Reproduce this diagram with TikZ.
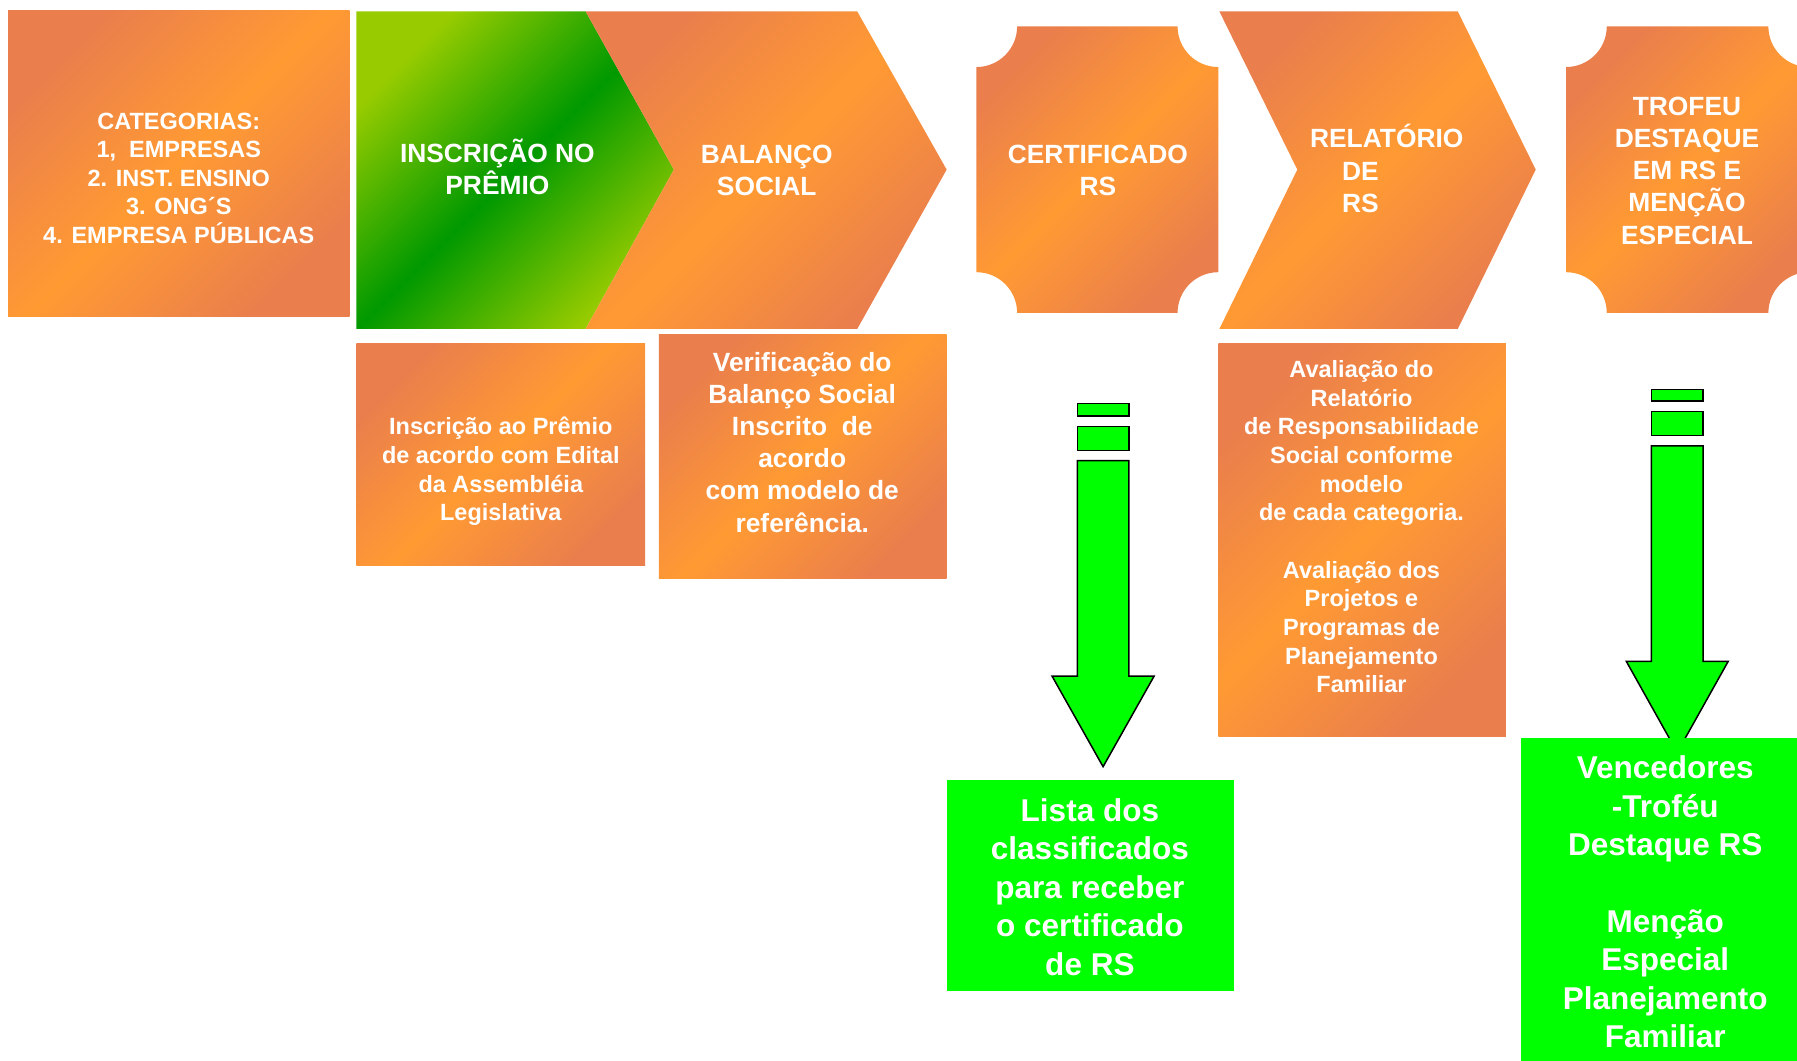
\documentclass[tikz,border=0pt]{standalone}
\usepackage{fontspec}
\setmainfont{Liberation Sans}
\definecolor{odark}{HTML}{EA7E4D}
\definecolor{obright}{HTML}{FF9A33}
\definecolor{glight}{HTML}{99CC00}
\definecolor{gdark}{HTML}{009900}
\definecolor{neon}{HTML}{00FF00}
\pgfdeclarehorizontalshading{orangeshade}{100bp}{color(0bp)=(odark); color(25bp)=(odark); color(50bp)=(obright); color(75bp)=(odark); color(100bp)=(odark)}
\pgfdeclarehorizontalshading{greenshade}{100bp}{color(0bp)=(glight); color(25bp)=(glight); color(50bp)=(gdark); color(75bp)=(glight); color(100bp)=(glight)}
\tikzset{
  orng/.style={shading=orangeshade, shading angle=-45},
  grn/.style={shading=greenshade, shading angle=-45},
  lbl/.style={text=white, align=center, inner sep=0pt},
  fcat/.style={font=\bfseries\fontsize{20.5}{24.8}\selectfont},
  fhead/.style={font=\bfseries\fontsize{23}{28}\selectfont},
  fsmall/.style={font=\bfseries\fontsize{20.5}{25}\selectfont},
  fbig/.style={font=\bfseries\fontsize{27.5}{33.5}\selectfont},
  arr/.style={fill=neon, draw=black, line width=1.3pt, line join=miter},
  gbox/.style={fill=neon},
}
\begin{document}
\begin{tikzpicture}[x=1pt,y=1pt]
\useasboundingbox (0,0) rectangle (1568,-925);
\clip (0,0) rectangle (1568,-925);
\fill[white] (0,0) rectangle (1568,-925);
% top row shapes
\path[orng] (7,-9) rectangle (305,-276);
\path[grn] (311,-10) -- (511,-10) -- (588,-148) -- (511,-287) -- (311,-287) -- cycle;
\path[orng] (511,-10) -- (748,-10) -- (826,-148) -- (748,-287) -- (511,-287) -- (588,-148) -- cycle;
\path[orng] (887.5,-23) -- (1027.5,-23) arc[start angle=180,end angle=270,radius=35.5pt]
  -- (1063,-237.5) arc[start angle=90,end angle=180,radius=35.5pt]
  -- (887.5,-273) arc[start angle=0,end angle=90,radius=35.5pt]
  -- (852,-58.5) arc[start angle=270,end angle=360,radius=35.5pt] -- cycle;
\path[orng] (1064,-10) -- (1272,-10) -- (1340,-148) -- (1272,-287) -- (1064,-287) -- (1132,-148) -- cycle;
\path[orng] (1402,-23) -- (1543,-23) arc[start angle=180,end angle=270,radius=35.5pt]
  -- (1578.5,-237.5) arc[start angle=90,end angle=180,radius=35.5pt]
  -- (1402,-273) arc[start angle=0,end angle=90,radius=35.5pt]
  -- (1366.5,-58.5) arc[start angle=270,end angle=360,radius=35.5pt] -- cycle;
% lower boxes
\path[orng] (311,-300) rectangle (563,-493);
\path[orng] (575,-292) rectangle (826,-505);
\path[orng] (1063,-299.5) rectangle (1314,-643);
% arrows
\draw[arr] (940,-352) rectangle (985,-363);
\draw[arr] (940,-372) rectangle (985,-393);
\draw[arr] (940,-402) -- (985,-402) -- (985,-590) -- (1007,-590) -- (962.5,-669) -- (918,-590) -- (940,-590) -- cycle;
\draw[arr] (1441,-340) rectangle (1486,-350);
\draw[arr] (1441,-359) rectangle (1486,-380);
\draw[arr] (1441,-389) -- (1486,-389) -- (1486,-577) -- (1508,-577) -- (1463.5,-656.5) -- (1419,-577) -- (1441,-577) -- cycle;
% green boxes
\path[gbox] (826,-681) rectangle (1077,-865);
\path[gbox] (1327,-644) rectangle (1580,-930);
% texts
\node[lbl, fcat] (cat) at (156,-155.5) {CATEGORIAS:\\1,~~EMPRESAS\\2. INST. ENSINO\\3. ONG´S\\4. EMPRESA PÚBLICAS};
\node[lbl, fhead] (insc) at (434,-146) {INSCRIÇÃO NO\\PRÊMIO};
\node[lbl, fhead] (bal) at (669,-148.5) {BALANÇO\\SOCIAL};
\node[lbl, fhead] (cert) at (958,-148.5) {CERTIFICADO\\RS};
\node[lbl, fhead] (rel) at (1210,-147) {RELATÓRIO\\DE\makebox[46pt]{}\\RS\makebox[46pt]{}};
\node[lbl, fhead] (trof) at (1472,-149) {TROFEU\\DESTAQUE\\EM RS E\\MENÇÃO\\ESPECIAL};
\node[lbl, fsmall] (inscd) at (437,-411.5) {Inscrição ao Prêmio\\de acordo com Edital\\da Assembléia\\Legislativa};
\node[lbl, fhead] (verif) at (700,-386) {Verificação do\\Balanço Social\\Inscrito~~de\\acordo\\com modelo de\\referência.};
\node[lbl, fsmall] (aval) at (1188,-459.6) {Avaliação do\\Relatório\\de Responsabilidade\\Social conforme\\modelo\\de cada categoria.\\[25pt]Avaliação dos\\Projetos e\\Programas de\\Planejamento\\Familiar};
\node[lbl, fbig] (lista) at (951,-774) {Lista dos\\classificados\\para receber\\o certificado\\de RS};
\node[lbl, fbig] (venc) at (1453,-787) {Vencedores\\-Troféu\\Destaque RS\\[33.5pt]Menção\\Especial\\Planejamento\\Familiar};
\end{tikzpicture}
\end{document}
